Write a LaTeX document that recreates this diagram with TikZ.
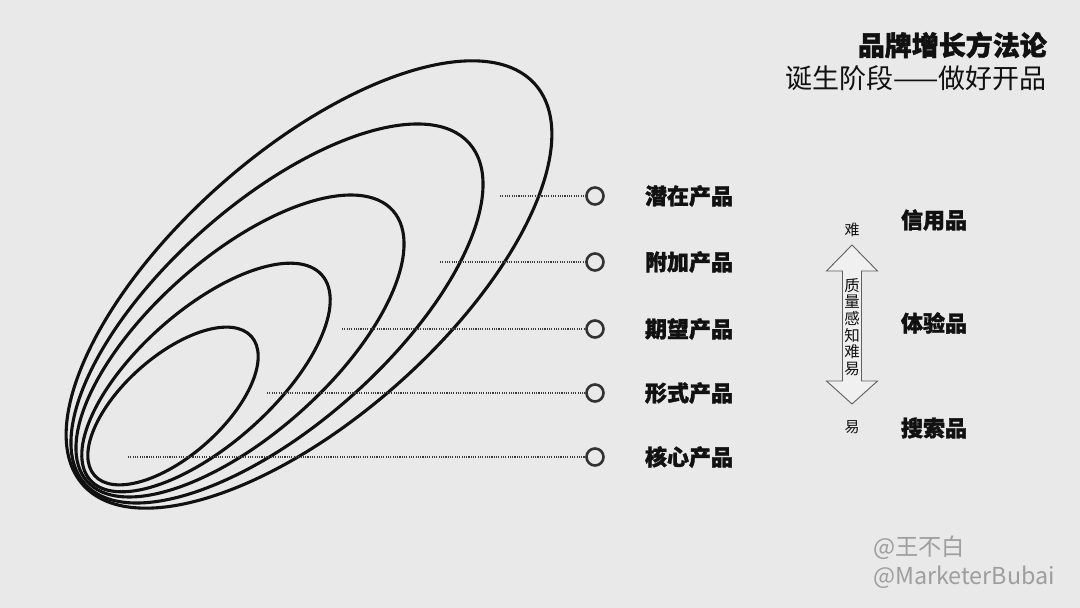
\documentclass[tikz,border=0pt]{standalone}
\usepackage{fontspec}
\newfontfamily\cjk{Noto Sans CJK SC}
\newfontfamily\cjkh{Noto Sans CJK SC}[BoldFeatures={FakeBold=1.6}]
\definecolor{bg}{RGB}{233,233,233}
\definecolor{ink}{RGB}{17,17,17}
\definecolor{dotc}{RGB}{60,60,60}
\definecolor{ringc}{RGB}{50,50,50}
\definecolor{wm}{RGB}{158,158,158}
\definecolor{arrc}{RGB}{95,95,95}
\begin{document}
\begin{tikzpicture}[x=1pt,y=1pt,
  ell/.style={draw=ink,line width=3.1pt},
  dotline/.style={draw=dotc,line width=1.4pt,dash pattern=on 1.1pt off 1.2pt},
  ring/.style={circle,draw=ringc,line width=2.6pt,minimum size=17pt,inner sep=0pt},
  lab/.style={font=\cjkh\bfseries\fontsize{22}{24}\selectfont,text=ink,inner sep=0pt},
  cat/.style={font=\cjkh\bfseries\fontsize{22}{24}\selectfont,text=ink,inner sep=0pt},
  small/.style={font=\cjk\fontsize{15}{16}\selectfont,text=ink,inner sep=0pt},
  wmark/.style={font=\cjk\fontsize{23.3}{25}\selectfont,text=wm,inner sep=0pt,anchor=west}]
\fill[bg] (0,0) rectangle (1080,608);
\useasboundingbox (0,0) rectangle (1080,608);

% nested ellipses
\draw[ell,rotate around={41.5:(309,323.5)}] (309,323.5) ellipse [x radius=302, y radius=133.3];
\draw[ell,rotate around={41.5:(277,294.5)}] (277,294.5) ellipse [x radius=256.8, y radius=111.3];
\draw[ell,rotate around={41.5:(240,262)}] (240,262) ellipse [x radius=204.2, y radius=89.4];
\draw[ell,rotate around={41.5:(206,230.5)}] (206,230.5) ellipse [x radius=154.7, y radius=67.5];
\draw[ell,rotate around={41.5:(173,202)}] (173,202) ellipse [x radius=104.8, y radius=49.9];

% rings and leader lines
\node[ring] (r1) at (595,412) {};
\node[ring] (r2) at (595,346) {};
\node[ring] (r3) at (595,279) {};
\node[ring] (r4) at (595,215) {};
\node[ring] (r5) at (595,151) {};
\coordinate (s1) at (500,412);
\coordinate (s2) at (440,346);
\coordinate (s3) at (342,279);
\coordinate (s4) at (267,215);
\coordinate (s5) at (128,151);
\draw[dotline] (s1) -- (r1.west);
\draw[dotline] (s2) -- (r2.west);
\draw[dotline] (s3) -- (r3.west);
\draw[dotline] (s4) -- (r4.west);
\draw[dotline] (s5) -- (r5.west);

\node[lab] (l1) at (689,412) {潜在产品};
\node[lab] (l2) at (689,346) {附加产品};
\node[lab] (l3) at (689,279) {期望产品};
\node[lab] (l4) at (689,215) {形式产品};
\node[lab] (l5) at (689,151) {核心产品};

% title
\node[font=\cjkh\bfseries\fontsize{27}{29}\selectfont,text=ink,anchor=east,inner sep=0pt] (title) at (1047,563) {品牌增长方法论};
\node[font=\cjk\fontsize{27}{29}\selectfont,text=ink,anchor=east,inner sep=0pt] (subtitle) at (1047,530) {诞生阶段——做好开品};

% double arrow
\draw[draw=arrc,fill=white,fill opacity=0.35,line width=0.9pt]
  (852,363) -- (877.5,337) -- (861.5,337) -- (861.5,227) -- (877.5,227) -- (852,204)
  -- (826.5,227) -- (842.5,227) -- (842.5,337) -- (826.5,337) -- cycle;
\node[font=\cjk\fontsize{15.5}{16.7}\selectfont,text=ink,align=center,inner sep=0pt] (arrtxt) at (852,281) {质\\量\\感\\知\\难\\易};
\node[small] (hard) at (852,378) {难};
\node[small] (easy) at (852,181) {易};

\node[cat] (c1) at (934,388) {信用品};
\node[cat] (c2) at (934,285) {体验品};
\node[cat] (c3) at (934,180) {搜索品};

% watermark
\node[wmark] (w1) at (873,60) {@王不白};
\node[wmark] (w2) at (873,31) {@MarketerBubai};
\end{tikzpicture}
\end{document}
